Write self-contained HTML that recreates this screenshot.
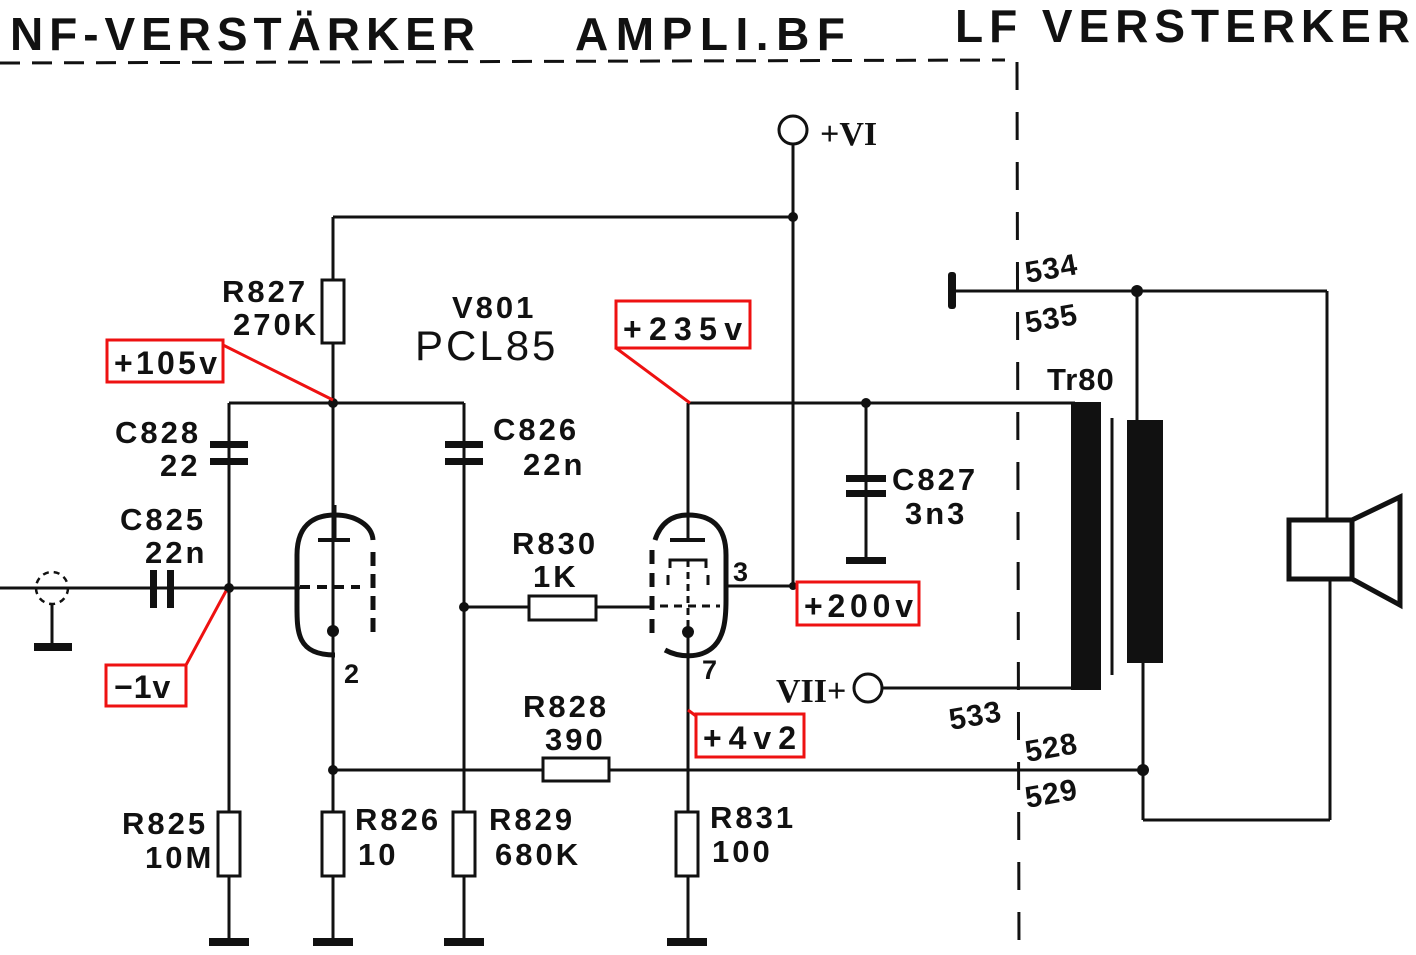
<!DOCTYPE html>
<html><head><meta charset="utf-8"><style>
html,body{margin:0;padding:0;background:#fff;}
svg{display:block}
text{font-family:"Liberation Sans",sans-serif;font-weight:bold;fill:#111;}
.l{font-size:31px;letter-spacing:3px;}
.r{font-size:32px;letter-spacing:1px;}
</style></head><body>
<svg width="1416" height="955" viewBox="0 0 1416 955" xmlns="http://www.w3.org/2000/svg">
<rect width="1416" height="955" fill="#fff"/>
<!-- titles -->
<text x="10" y="50" style="font-size:46px" textLength="465" lengthAdjust="spacing">NF-VERSTÄRKER</text>
<text x="575" y="50" style="font-size:46px" textLength="270" lengthAdjust="spacing">AMPLI.BF</text>
<text x="955" y="42" style="font-size:46px" textLength="455" lengthAdjust="spacing">LF VERSTERKER</text>
<line x1="0" y1="63" x2="1005" y2="60" stroke="#111" stroke-width="3" stroke-dasharray="20,12"/>
<line x1="1017" y1="62" x2="1019" y2="955" stroke="#111" stroke-width="3" stroke-dasharray="28,22"/>

<g stroke="#111" stroke-width="3" fill="none">
<circle cx="793" cy="130" r="14"/>
<line x1="793" y1="144" x2="793" y2="587"/>
<line x1="333" y1="217" x2="793" y2="217"/>
<line x1="333" y1="217" x2="333" y2="940"/>
<line x1="229" y1="403" x2="464" y2="403"/>
<line x1="229" y1="403" x2="229" y2="940"/>
<line x1="464" y1="403" x2="464" y2="940"/>
<line x1="0" y1="588" x2="300" y2="588"/>
<line x1="464" y1="607" x2="652" y2="607"/>
<line x1="688" y1="403" x2="688" y2="540"/>
<line x1="688" y1="632" x2="688" y2="940"/>
<line x1="725" y1="586" x2="793" y2="586"/>
<line x1="688" y1="403" x2="1075" y2="403"/>
<line x1="866" y1="403" x2="866" y2="560"/>
<line x1="333" y1="770" x2="1143" y2="770"/>
<circle cx="868" cy="688" r="14"/>
<line x1="882" y1="688" x2="1072" y2="688"/>
<line x1="953" y1="291" x2="1327" y2="291"/>
<line x1="1137" y1="291" x2="1137" y2="420"/>
<line x1="1143" y1="662" x2="1143" y2="820"/>
<line x1="1143" y1="820" x2="1330" y2="820"/>
<line x1="1327" y1="291" x2="1327" y2="520"/>
<line x1="1330" y1="580" x2="1330" y2="820"/>
<line x1="1112" y1="418" x2="1112" y2="675"/>
</g>
<g fill="#111">
<rect x="1071" y="402" width="30" height="288"/>
<rect x="1127" y="420" width="36" height="243"/>
<rect x="948" y="272" width="8" height="37" rx="3"/>
</g>
<g stroke="#111" stroke-width="5" fill="#fff">
<rect x="1289" y="520" width="63" height="59"/>
<polygon points="1352,520 1400,497 1400,605 1352,579"/>
</g>
<g fill="#111">
<rect x="210" y="441" width="38" height="7"/><rect x="210" y="458" width="38" height="7"/>
<rect x="445" y="441" width="38" height="7"/><rect x="445" y="458" width="38" height="7"/>
<rect x="846" y="475" width="40" height="7"/><rect x="846" y="490" width="40" height="7"/>
<rect x="150" y="570" width="7" height="38"/><rect x="167" y="570" width="7" height="38"/>
<rect x="846" y="557" width="40" height="7"/>
</g>
<g stroke="#111" stroke-width="3" fill="#fff">
<rect x="322" y="280" width="22" height="63"/>
<rect x="218" y="812" width="22" height="64"/>
<rect x="322" y="812" width="22" height="64"/>
<rect x="453" y="812" width="22" height="64"/>
<rect x="676" y="812" width="22" height="64"/>
<rect x="529" y="596" width="67" height="24"/>
<rect x="543" y="758" width="66" height="23"/>
</g>
<g fill="#111">
<rect x="209" y="938" width="40" height="8"/><rect x="313" y="938" width="40" height="8"/>
<rect x="444" y="938" width="40" height="8"/><rect x="667" y="938" width="40" height="8"/>
<rect x="34" y="643" width="38" height="8"/>
</g>
<line x1="52" y1="604" x2="52" y2="645" stroke="#111" stroke-width="3"/>
<circle cx="52" cy="588" r="16" fill="none" stroke="#111" stroke-width="2.5" stroke-dasharray="6,5"/>
<g fill="#111">
<circle cx="793" cy="217" r="5"/><circle cx="333" cy="403" r="5"/><circle cx="229" cy="588" r="5"/>
<circle cx="464" cy="607" r="5"/><circle cx="333" cy="770" r="5"/><circle cx="866" cy="403" r="5"/>
<circle cx="1137" cy="291" r="6"/><circle cx="1143" cy="770" r="6"/><circle cx="793" cy="586" r="4"/>
</g>
<g stroke="#111" stroke-width="5" fill="none">
<path d="M335,655 C295,655 297,630 297,600 L297,555 C297,520 320,515 335,515 C355,515 372,525 373,540"/>
<line x1="373" y1="552" x2="373" y2="640" stroke-dasharray="14,8"/>
<line x1="318" y1="540" x2="350" y2="540" stroke-width="4"/>
<line x1="335" y1="505" x2="335" y2="540" stroke-width="3"/>
<line x1="300" y1="587" x2="360" y2="587" stroke-width="4" stroke-dasharray="10,7"/>
<line x1="333" y1="632" x2="333" y2="660" stroke-width="3"/>
</g>
<circle cx="333" cy="631" r="6" fill="#111"/>
<g stroke="#111" stroke-width="5" fill="none">
<path d="M665,650 C680,658 700,658 712,648 C724,638 726,620 726,600 L726,555 C726,525 710,515 688,515 C670,515 660,525 655,540"/>
<line x1="652" y1="550" x2="652" y2="635" stroke-dasharray="14,9"/>
<line x1="670" y1="540" x2="705" y2="540" stroke-width="4"/>
<path d="M670,568 L670,560 L706,560 L706,568 M668,575 L668,585 M708,575 L708,585" stroke-width="3"/>
<line x1="660" y1="606" x2="720" y2="606" stroke-width="3" stroke-dasharray="8,6"/>
<line x1="688" y1="560" x2="688" y2="632" stroke-width="3" stroke-dasharray="7,5"/>
</g>
<circle cx="688" cy="632" r="6" fill="#111"/>
<g stroke="#e11" stroke-width="3" fill="none">
<rect x="107" y="340" width="116" height="42"/>
<line x1="223" y1="345" x2="333" y2="400"/>
<rect x="616" y="301" width="134" height="47"/>
<line x1="616" y1="348" x2="690" y2="403"/>
<rect x="106" y="665" width="80" height="41"/>
<line x1="186" y1="665" x2="226" y2="591"/>
<rect x="797" y="582" width="122" height="43"/>
<rect x="696" y="714" width="108" height="43"/>
<line x1="688" y1="710" x2="696" y2="716"/>
</g>
<text class="r" x="114" y="374" textLength="104" lengthAdjust="spacing">+105v</text>
<text class="r" x="623" y="340" textLength="120" lengthAdjust="spacing">+235v</text>
<text class="r" x="114" y="698">−1v</text>
<text class="r" x="804" y="617" textLength="110" lengthAdjust="spacing">+200v</text>
<text class="r" x="703" y="749" textLength="94" lengthAdjust="spacing">+4v2</text>
<text x="820" y="145" style="font-size:34px;font-family:'Liberation Serif',serif">+VI</text>
<text x="776" y="702" style="font-size:34px;font-family:'Liberation Serif',serif">VII+</text>
<text class="l" x="222" y="302">R827</text>
<text class="l" x="233" y="335">270K</text>
<text class="l" x="452" y="318">V801</text>
<text x="415" y="360" style="font-size:42px;font-weight:normal;letter-spacing:3px">PCL85</text>
<text class="l" x="115" y="443">C828</text>
<text class="l" x="160" y="476">22</text>
<text class="l" x="120" y="530">C825</text>
<text class="l" x="145" y="563">22n</text>
<text class="l" x="493" y="440">C826</text>
<text class="l" x="523" y="475">22n</text>
<text class="l" x="512" y="554">R830</text>
<text class="l" x="533" y="587">1K</text>
<text class="l" x="892" y="490">C827</text>
<text class="l" x="905" y="524">3n3</text>
<text class="l" x="523" y="717">R828</text>
<text class="l" x="545" y="750">390</text>
<text class="l" x="122" y="834">R825</text>
<text class="l" x="145" y="868">10M</text>
<text class="l" x="355" y="830">R826</text>
<text class="l" x="358" y="865">10</text>
<text class="l" x="489" y="830">R829</text>
<text class="l" x="495" y="865">680K</text>
<text class="l" x="710" y="828">R831</text>
<text class="l" x="712" y="862">100</text>
<text x="344" y="683" style="font-size:27px">2</text>
<text x="702" y="679" style="font-size:27px">7</text>
<text x="733" y="581" style="font-size:27px">3</text>
<text class="l" x="1047" y="390" style="letter-spacing:1px">Tr80</text>
<g class="l" style="font-size:30px;letter-spacing:1px">
<text x="1027" y="283" transform="rotate(-10 1027 283)">534</text>
<text x="1027" y="333" transform="rotate(-10 1027 333)">535</text>
<text x="951" y="730" transform="rotate(-10 951 730)">533</text>
<text x="1027" y="762" transform="rotate(-10 1027 762)">528</text>
<text x="1027" y="808" transform="rotate(-10 1027 808)">529</text>
</g>
</svg>
</body></html>
